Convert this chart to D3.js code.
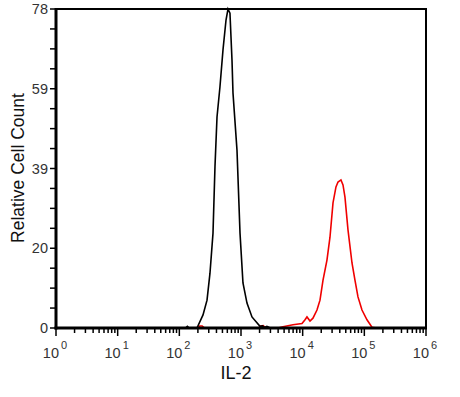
<!DOCTYPE html>
<html>
<head>
<meta charset="utf-8">
<script src="https://cdn.jsdelivr.net/npm/d3@7"></script>
<style>
  body { margin: 0; background: #fff; }
  text { font-family: Arial, "Liberation Sans", sans-serif; }
</style>
</head>
<body>
<div id="chart"></div>
<script>
// log10 of intensity, and the count at that intensity
var blackExp   = [0, 2.0, 2.1, 2.13, 2.16, 2.286, 2.384, 2.449, 2.497, 2.546, 2.578, 2.611, 2.659, 2.708, 2.757, 2.789, 2.821, 2.854, 2.870, 2.935, 2.984, 3.032, 3.097, 3.178, 3.308, 3.35, 3.38, 3.42, 3.46, 3.5, 6];
var blackCount = [0, 0,   0,   0.4,  0,    0,     3.2,   6.8,   13.4,  23.2,  39.4,  51.6,  59,    68,    75.3,  78,    77,    65.5,  57.5,  43.5,  23.2,  11,    6.1,   2.7,   0.4,   0.5,  0.1,  0.4,  0.1,  0,   0];

var redExp   = [0, 2.3, 2.33, 2.37, 2.41, 3.28, 3.32, 3.36, 3.40, 3.6, 3.681, 3.843, 3.989, 4.038, 4.070, 4.119, 4.167, 4.232, 4.281, 4.330, 4.394, 4.443, 4.492, 4.540, 4.573, 4.621, 4.654, 4.686, 4.735, 4.800, 4.848, 4.897, 4.962, 5.043, 5.124, 5.2, 6];
var redCount = [0, 0,   0.5,  0.5,  0,    0,    0.5,  0.6,  0,    0,   0.3,   0.8,   1.1,   2.0,   2.7,   1.7,   2.4,   4.4,   6.8,   11.7,  16.6,  22.2,  30.6,  34.5,  35.7,  36.2,  35.0,  32.0,  24.0,  15.9,  11.7,  7.6,   4.4,   2.0,   0.2,   0,   0];

var yTicks = [0, 19.5, 39, 58.5, 78];
var yTickLabels = ["0", "20", "39", "59", "78"];
var xDecades = [0, 1, 2, 3, 4, 5, 6];

var width = 460, height = 397;
var plotLeft = 56, plotRight = 426, plotTop = 9, plotBottom = 328;

var svg = d3.select("#chart").append("svg")
  .attr("width", width)
  .attr("height", height);

var x = d3.scaleLog().domain([1, 1e6]).range([plotLeft, plotRight]);
var y = d3.scaleLinear().domain([0, 78]).range([plotBottom, plotTop]);

var line = d3.line()
  .x(function(d) { return x(Math.pow(10, d[0])); })
  .y(function(d) { return y(d[1]); });

// frame (top and right)
svg.append("path")
  .attr("d", "M" + plotLeft + "," + plotTop + "H" + plotRight + "V" + plotBottom)
  .attr("fill", "none")
  .attr("stroke", "#000")
  .attr("stroke-width", 2);

svg.append("path")
  .datum(d3.zip(redExp, redCount))
  .attr("d", line)
  .attr("fill", "none")
  .attr("stroke", "#f00000")
  .attr("stroke-width", 1.6);

svg.append("path")
  .datum(d3.zip(blackExp, blackCount))
  .attr("d", line)
  .attr("fill", "none")
  .attr("stroke", "#000")
  .attr("stroke-width", 1.6);

// y axis
var yMinor = d3.range(0, 17).map(function(i) { return i * 78 / 16; });
svg.append("g").selectAll("line").data(yMinor).enter().append("line")
  .attr("x1", plotLeft - 6).attr("x2", plotLeft)
  .attr("y1", function(d) { return y(d); })
  .attr("y2", function(d) { return y(d); })
  .attr("stroke", "#000").attr("stroke-width", 1.5);

svg.append("g").selectAll("text").data(yTicks).enter().append("text")
  .attr("x", plotLeft - 8)
  .attr("y", function(d) { return y(d); })
  .attr("dy", "0.36em")
  .attr("text-anchor", "end")
  .attr("font-size", 14.5)
  .attr("fill", "#333")
  .text(function(d, i) { return yTickLabels[i]; });

svg.append("line")
  .attr("x1", plotLeft).attr("x2", plotLeft)
  .attr("y1", plotTop - 1).attr("y2", plotBottom + 1.5)
  .attr("stroke", "#000").attr("stroke-width", 3);

// x axis
var xMinor = [];
xDecades.slice(0, -1).forEach(function(e) {
  for (var k = 2; k <= 9; k++) xMinor.push(k * Math.pow(10, e));
});
svg.append("g").selectAll("line").data(xMinor).enter().append("line")
  .attr("x1", function(d) { return x(d); })
  .attr("x2", function(d) { return x(d); })
  .attr("y1", plotBottom).attr("y2", plotBottom + 5)
  .attr("stroke", "#000").attr("stroke-width", 1.5);

svg.append("g").selectAll("line").data(xDecades).enter().append("line")
  .attr("x1", function(d) { return x(Math.pow(10, d)); })
  .attr("x2", function(d) { return x(Math.pow(10, d)); })
  .attr("y1", plotBottom).attr("y2", plotBottom + 8)
  .attr("stroke", "#000").attr("stroke-width", 1.5);

svg.append("line")
  .attr("x1", plotLeft - 1.5).attr("x2", plotRight + 1)
  .attr("y1", plotBottom).attr("y2", plotBottom)
  .attr("stroke", "#000").attr("stroke-width", 3);

var xl = svg.append("g").selectAll("text").data(xDecades).enter().append("text")
  .attr("x", function(d) { return x(Math.pow(10, d)) - 1; })
  .attr("y", 358)
  .attr("text-anchor", "middle")
  .attr("font-size", 14.5)
  .attr("fill", "#333");
xl.append("tspan").text("10");
xl.append("tspan").attr("dy", -9).attr("dx", 2).attr("font-size", 11).text(function(d) { return d; });

// axis titles
svg.append("text")
  .attr("x", 236).attr("y", 379)
  .attr("text-anchor", "middle")
  .attr("font-size", 18)
  .attr("fill", "#111")
  .text("IL-2");

svg.append("text")
  .attr("transform", "translate(24,168) rotate(-90)")
  .attr("text-anchor", "middle")
  .attr("font-size", 17.5)
  .attr("fill", "#111")
  .text("Relative Cell Count");
</script>
</body>
</html>
